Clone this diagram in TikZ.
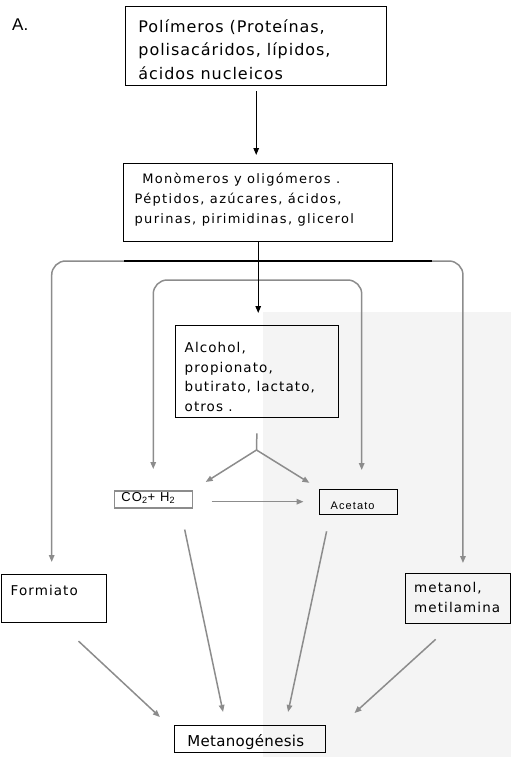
\documentclass[tikz,border=0pt]{standalone}
\usepackage{fontspec}
\setmainfont{DejaVu Sans}
\newfontfamily\fa[LetterSpace=6]{DejaVu Sans}
\newfontfamily\fb[LetterSpace=10]{DejaVu Sans}
\newfontfamily\fc[LetterSpace=8]{DejaVu Sans}
\newfontfamily\fd[LetterSpace=2]{DejaVu Sans}
\newfontfamily\ar{Liberation Sans}
\newfontfamily\arls[LetterSpace=10]{Liberation Sans}
\usetikzlibrary{arrows.meta}
\definecolor{gln}{RGB}{140,140,140}
\definecolor{wm}{RGB}{244,244,244}
\newcommand{\bt}[5]{\parbox[c][#2][t]{#1}{\leftskip=#3\rightskip=0pt plus 1fil\parindent=0pt\parfillskip=0pt plus 1fil\rule{0pt}{#4}#5}}
\begin{document}
\begin{tikzpicture}[x=1pt,y=-1pt,
  bx/.style={draw=black, line width=1.4pt, inner sep=0pt, anchor=north west},
  gbx/.style={draw=gln, line width=1.5pt, inner sep=0pt, anchor=north west},
  bl/.style={line width=1.3pt, draw=black},
  barr/.style={bl, -{Triangle[length=7pt,width=5.5pt]}},
  gl/.style={line width=1.5pt, draw=gln},
  garr/.style={gl, -{Triangle[length=7pt,width=5.5pt]}}]
\useasboundingbox (0,0) rectangle (511,757);
\fill[wm] (263,312) rectangle (511,757);

\node[anchor=base west, font=\ar\fontsize{17}{20}\selectfont, inner sep=0pt] (lab) at (12,31) {A.};

\node[bx] (b1) at (125,6) {\bt{261pt}{79pt}{12.7pt}{25.7pt}{\fa\fontsize{16}{23.5}\selectfont Polímeros (Proteínas,\\polisacáridos, lípidos,\\ácidos nucleicos}};
\node[bx] (b2) at (123,163) {\bt{269pt}{78pt}{11pt}{19.7pt}{\fb\fontsize{13}{20}\selectfont \hspace*{7.7pt}Monòmeros y oligómeros .\\Péptidos, azúcares, ácidos,\\purinas, pirimidinas, glicerol}};
\node[bx] (alc) at (175,325) {\bt{163pt}{92pt}{9pt}{26.7pt}{\fc\fontsize{13.5}{19.7}\selectfont Alcohol,\\propionato,\\butirato, lactato,\\otros .}};
\node[gbx] (co2) at (113.5,490) {\bt{78pt}{17pt}{7pt}{10.7pt}{\arls\fontsize{13}{14}\selectfont CO\textsubscript{2}+ H\textsubscript{2}}};
\node[bx] (ac) at (318.5,488.5) {\bt{78pt}{25pt}{11.5pt}{19.8pt}{\arls\fontsize{11}{12}\selectfont Acetato}};
\node[bx] (fo) at (1,574) {\bt{105pt}{48pt}{9pt}{21pt}{\fc\fontsize{13.5}{20}\selectfont Formiato}};
\node[bx] (me) at (404.5,573) {\bt{105.5pt}{50pt}{9pt}{18.7pt}{\fc\fontsize{13.5}{20}\selectfont metanol,\\metilamina}};
\node[bx] (mt) at (174,725) {\bt{151pt}{27pt}{12.7pt}{21pt}{\fd\fontsize{15}{16}\selectfont Metanogénesis}};

\coordinate (hl) at (124,261);
\coordinate (hr) at (432,261);
\coordinate (il) at (257,280);
\coordinate (fk) at (256.5,450);

% gray branches
\draw[garr, rounded corners=14pt, shorten >=12pt] (hl) -| ([xshift=-2.5pt]fo.north);
\draw[garr, rounded corners=14pt, shorten >=10pt] (hr) -| ([xshift=5pt]me.north);
\draw[garr, rounded corners=14pt, shorten >=21pt] (il) -| (co2.north);
\draw[garr, rounded corners=14pt, shorten >=18.5pt] (il) -| ([xshift=3.5pt]ac.north);

% black main line
\draw[barr, shorten <=5pt, shorten >=8pt] (b1.south) -- (b1.south |- b2.north);
\draw[bl] (hl) -- (hr);
\draw[barr, shorten >=12pt] (b2.south) -- (b2.south |- alc.north);

% fork
\draw[gl, shorten <=15pt] (alc.south) -- (fk);
\draw[garr, shorten >=15pt] (fk) -- (co2.north east);
\draw[garr, shorten >=10.7pt] (fk) -- (ac.north west);
\draw[garr, shorten <=18.5pt, shorten >=15pt] (ac.west -| co2.east) -- (ac.west);

% to methanogenesis
\draw[garr, shorten <=26pt, shorten >=11.7pt] ([xshift=5.3pt]fo.south) -- ([xshift=-5.5pt]mt.north west);
\draw[garr, shorten <=21.5pt, shorten >=13.3pt] ([xshift=27pt]co2.south) -- ([xshift=51.8pt]mt.north west);
\draw[garr, shorten <=16.8pt, shorten >=13.3pt] ([xshift=-28.1pt]ac.south) -- ([xshift=111.3pt]mt.north west);
\draw[garr, shorten <=22.2pt, shorten >=17.8pt] ([xshift=-5.85pt]me.south) -- ([xshift=14.9pt]mt.north east);
\end{tikzpicture}
\end{document}
